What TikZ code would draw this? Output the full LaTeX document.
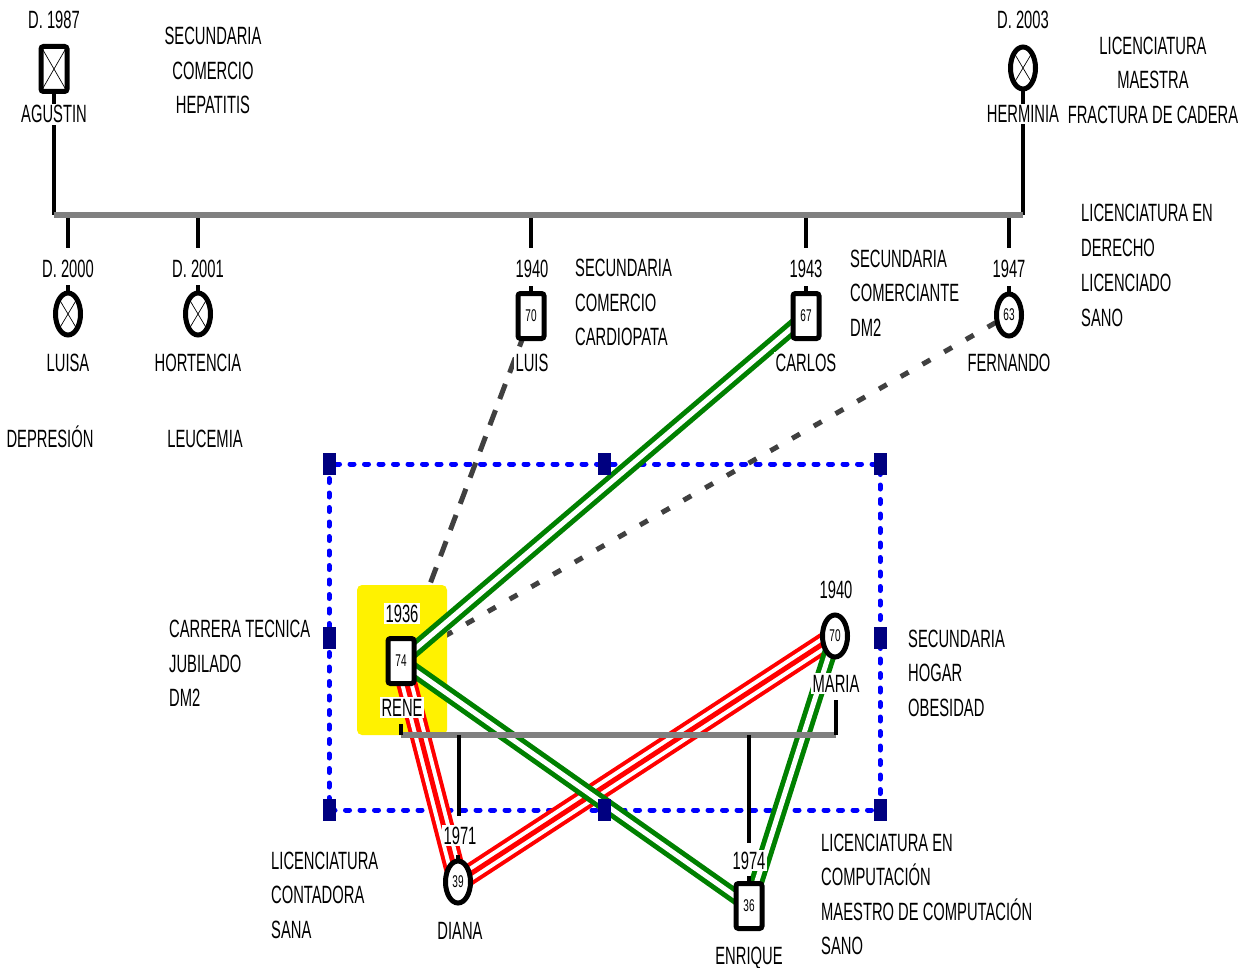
\documentclass[tikz,border=0pt]{standalone}
\usepackage{fontspec}
\setmainfont{Liberation Sans}[FakeStretch=0.59]
\usetikzlibrary{shapes.geometric}
\definecolor{kgreen}{RGB}{0,128,0}
\definecolor{barg}{RGB}{128,128,128}
\definecolor{dgray}{RGB}{64,64,64}
\definecolor{navyb}{RGB}{0,0,128}
\pgfdeclarelayer{layA}
\pgfdeclarelayer{layB}
\pgfdeclarelayer{layC}
\pgfsetlayers{layA,layB,layC,main}
\begin{document}
\begin{tikzpicture}[x=1pt,y=-1pt,
  txt/.style={font=\fontsize{25}{34.5}\selectfont, inner sep=0pt},
  nm/.style={txt, fill=white, inner sep=1.5pt, anchor=base},
  note/.style={txt, anchor=west, align=left},
  male/.style={draw, line width=5pt, rounded corners=2.5pt, minimum width=26pt, minimum height=45pt, fill=white, inner sep=0pt, font=\fontsize{17}{17}\selectfont},
  female/.style={ellipse, draw, line width=5pt, minimum width=25pt, minimum height=42pt, fill=white, inner sep=0pt, font=\fontsize{17}{17}\selectfont},
  dead/.style={path picture={\draw[line width=0.7pt] (path picture bounding box.north west) -- (path picture bounding box.south east) (path picture bounding box.north east) -- (path picture bounding box.south west);}},
  blk/.style={draw=black, line width=4pt},
  bar/.style={draw=barg, line width=6pt},
  mk/.style={fill=navyb, minimum width=13pt, minimum height=22pt, inner sep=0pt},
  greenline/.style={draw=kgreen, line width=5pt, double=white, double distance=5pt},
]
\useasboundingbox (0,0) rectangle (1255,968);

% ---------- generation 1 ----------
\node[male,dead] (agustin) at (54,69) {};
\node[nm] (agustinY) at (54,29) {D. 1987};
\node[nm] (agustinN) at (54,123) {AGUSTIN};
\node[note,align=center,anchor=center] (agustinT) at (213,70.5) {SECUNDARIA\\COMERCIO\\HEPATITIS};

\node[female,dead] (herminia) at (1023,68) {};
\node[nm] (herminiaY) at (1023,29) {D. 2003};
\node[nm] (herminiaN) at (1023,123) {HERMINIA};
\node[note,align=center,anchor=center] (herminiaT) at (1153,80) {LICENCIATURA\\MAESTRA\\FRACTURA DE CADERA};

\coordinate (barL) at (54,215);
\coordinate (barR) at (1023,215);

% ---------- generation 2 ----------
\node[female,dead] (luisa) at (68,314) {};
\node[nm] (luisaY) at (68,277) {D. 2000};
\node[nm] (luisaN) at (68,371) {LUISA};
\node[nm] (luisaT) at (50,447) {DEPRESIÓN};

\node[female,dead] (hortencia) at (198,314) {};
\node[nm] (hortenciaY) at (198,277) {D. 2001};
\node[nm] (hortenciaN) at (198,371) {HORTENCIA};
\node[nm] (hortenciaT) at (205,447) {LEUCEMIA};

\node[male] (luis) at (531,316) {70};
\node[nm] (luisY) at (532,277) {1940};
\node[note] (luisT) at (575,302.5) {SECUNDARIA\\COMERCIO\\CARDIOPATA};

\node[male] (carlos) at (806,316) {67};
\node[nm] (carlosY) at (806,277) {1943};
\node[note] (carlosT) at (850,293) {SECUNDARIA\\COMERCIANTE\\DM2};

\node[female] (fernando) at (1009,315) {63};
\node[nm] (fernandoY) at (1009,277) {1947};
\node[note,font=\fontsize{25}{35}\selectfont] (fernandoT) at (1081,265.5) {LICENCIATURA EN\\DERECHO\\LICENCIADO\\SANO};

\foreach \n/\x in {luisa/68,hortencia/198,luis/531,carlos/806,fernando/1009}{
  \draw[blk] (\x,218) -- (\x,248);
  \draw[blk] (\n.north) -- ++(0,-5);
}

% ---------- generation 3 ----------
\node[male] (rene) at (401,661) {74};
\node[note] (reneT) at (169,663.5) {CARRERA TECNICA\\JUBILADO\\DM2};

\node[female] (maria) at (835,636) {70};
\node[nm] (mariaY) at (836,598) {1940};
\node[note] (mariaT) at (908,673) {SECUNDARIA\\HOGAR\\OBESIDAD};

\node[female] (diana) at (458,882) {39};
\node[nm] (dianaY) at (460,844) {1971};
\node[nm] (dianaN) at (460,939) {DIANA};
\node[note] (dianaT) at (271,895) {LICENCIATURA\\CONTADORA\\SANA};

\node[male] (enrique) at (749,906) {36};
\node[nm] (enriqueY) at (749,869) {1974};
\node[nm] (enriqueN) at (749,964) {ENRIQUE};
\node[note,font=\fontsize{25}{34.3}\selectfont] (enriqueT) at (821,894.5) {LICENCIATURA EN\\COMPUTACIÓN\\MAESTRO DE COMPUTACIÓN\\SANO};

\coordinate (bar2L) at (401,735);
\coordinate (bar2R) at (836,735);
\draw[blk] (401,724) -- (bar2L);
\draw[blk] (836,700) -- (bar2R);
\draw[blk] (459,735) -- (459,816);
\draw[blk] (749,735) -- (749,843);
\draw[blk] (diana.north) -- ++(0,-4);
\draw[blk] (enrique.north) -- ++(0,-5);

% name labels that sit on top of connectors
\node[nm] (luisN) at (532,371) {LUIS};
\node[nm] (carlosN) at (806,371) {CARLOS};
\node[nm] (fernandoN) at (1009,371) {FERNANDO};
\node[nm] (reneY) at (402,622) {1936};
\node[nm] (reneN) at (402,716) {RENE};
\node[nm] (mariaN) at (836,692) {MARIA};

% ---------- background layers ----------
\begin{pgfonlayer}{layA}
  \draw[blk] (agustin.south) -- (barL);
  \draw[blk] (herminia.south) -- (barR);
  \draw[bar] (barL) -- (barR);
  \draw[blue, line width=5pt, dash pattern=on 4pt off 10.5pt, line cap=round] (329,464) rectangle (880,810);
  \draw[dgray, line width=5pt, dash pattern=on 16pt off 12pt] (rene.center) -- (luis.center);
  \draw[dgray, line width=5pt, dash pattern=on 9pt off 16pt] (rene.center) -- (fernando.center);
\end{pgfonlayer}
\begin{pgfonlayer}{layB}
  \fill[yellow, rounded corners=5pt] (357,585) rectangle (447,735);
\end{pgfonlayer}
\begin{pgfonlayer}{layC}
  \foreach \a/\b in {rene/diana,diana/maria}{
    \draw[red, line width=21pt] (\a.center) -- (\b.center);
    \draw[white, line width=13pt] (\a.center) -- (\b.center);
    \draw[red, line width=5pt] (\a.center) -- (\b.center);
  }
  \draw[greenline] (rene.center) -- (carlos.center);
  \draw[greenline] (rene.center) -- (enrique.center);
  \draw[greenline] (maria.center) -- (enrique.center);
  \node[mk] (m1) at (329,464) {};
  \node[mk] (m2) at (604,464) {};
  \node[mk] (m3) at (880,464) {};
  \node[mk] (m4) at (329,638) {};
  \node[mk] (m5) at (880,638) {};
  \node[mk] (m6) at (329,810) {};
  \node[mk] (m7) at (604,810) {};
  \node[mk] (m8) at (880,810) {};
  \draw[bar] (bar2L) -- (bar2R);
\end{pgfonlayer}
\end{tikzpicture}
\end{document}
